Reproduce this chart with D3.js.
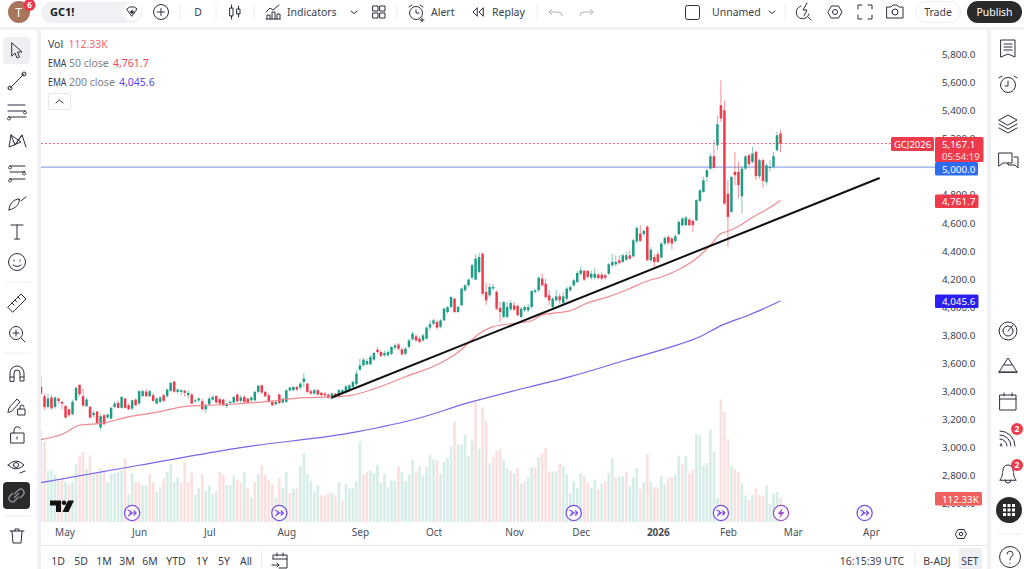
<!DOCTYPE html>
<html>
<head>
<meta charset="utf-8">
<script src="https://cdn.jsdelivr.net/npm/d3@7"></script>
<style>
html,body{margin:0;padding:0;background:#f0f1f4;overflow:hidden}
svg{display:block}
text{font-family:"Noto Sans",Roboto,sans-serif;fill:#3a3e4a}
.ic{fill:none;stroke:#2a2e39;stroke-width:1;stroke-linecap:round;stroke-linejoin:round}
</style>
</head>
<body>
<svg id="chart" width="1024" height="569"></svg>
<script>
//candles, one entry per trading day
var opens = [
3433,3367,3291,3358,3291,3350,3327,3298,3274,3239,
3338,3448,3367,3296,3291,3232,3258,3144,3232,3215,
3208,3291,3319,3284,3350,3303,3279,3343,3315,3369,
3400,3367,3374,3315,3327,3374,3367,3405,3471,3398,
3398,3405,3374,3379,3331,3338,3331,3274,3310,3343,
3369,3346,3343,3296,3319,3322,3379,3334,3362,3350,
3338,3338,3398,3445,3398,3374,3327,3310,3379,3322,
3327,3410,3410,3433,3429,3469,3457,3403,3386,3410,
3391,3386,3379,3350,3386,3367,3391,3398,3410,3433,
3452,3556,3587,3594,3594,3628,3699,3682,3659,3659,
3670,3713,3735,3701,3670,3718,3773,3794,3777,3765,
3777,3856,3884,3896,3861,3908,3967,4003,4062,3967,
4015,4122,4157,4212,4198,4252,4383,4110,4086,4134,
4110,3996,3932,3932,3986,4015,4010,3932,3979,3979,
4003,4110,4122,4205,4169,4086,4003,4050,4079,4031,
4062,4122,4157,4181,4240,4260,4260,4212,4212,4233,
4233,4229,4240,4300,4307,4336,4324,4340,4371,4364,
4470,4526,4522,4574,4336,4359,4379,4355,4455,4502,
4491,4472,4522,4586,4586,4626,4616,4621,4759,4823,
4930,4989,5077,5156,5441,5405,4811,4681,4966,4966,
4792,4989,5084,5037,5108,4935,5049,4894,4994,5001,
5120,5239];
var closes = [
3386,3291,3350,3281,3358,3334,3315,3215,3232,3327,
3426,3381,3300,3343,3215,3248,3177,3225,3168,3236,
3284,3315,3284,3362,3284,3274,3338,3303,3403,3403,
3367,3403,3334,3350,3358,3334,3414,3462,3400,3414,
3410,3391,3391,3315,3338,3350,3274,3303,3350,3362,
3322,3315,3303,3315,3327,3362,3331,3358,3327,3322,
3358,3398,3441,3393,3367,3327,3303,3327,3319,3350,
3410,3429,3433,3414,3457,3493,3398,3386,3410,3379,
3374,3374,3358,3386,3362,3410,3410,3438,3445,3469,
3528,3587,3628,3618,3647,3675,3682,3654,3675,3682,
3718,3730,3706,3666,3706,3765,3813,3765,3754,3801,
3856,3880,3908,3856,3908,3991,4003,4074,3967,4003,
4134,4157,4198,4300,4347,4359,4098,4050,4146,4146,
3991,3967,4039,4003,4031,3984,3944,3991,4003,4003,
4117,4122,4212,4157,4074,4050,4062,4079,4050,4079,
4134,4146,4193,4245,4264,4198,4217,4240,4240,4210,
4205,4212,4307,4324,4324,4316,4371,4371,4347,4478,
4565,4474,4545,4336,4411,4324,4324,4455,4495,4460,
4455,4507,4609,4633,4640,4586,4586,4764,4835,4906,
4977,5077,4996,5305,5346,4740,4645,4930,4942,4871,
4989,5077,5020,5096,4935,5049,4901,5013,5001,5077,
5227,5167.1];
var highs = [
3505,3386,3386,3374,3367,3358,3334,3303,3279,3343,
3438,3452,3422,3358,3298,3262,3262,3239,3239,3243,
3291,3327,3338,3367,3358,3315,3343,3350,3410,3414,
3419,3414,3391,3358,3367,3386,3422,3469,3476,3422,
3419,3414,3410,3391,3350,3362,3350,3315,3362,3374,
3374,3358,3350,3324,3338,3367,3386,3374,3374,3358,
3367,3405,3450,3450,3405,3386,3338,3338,3386,3358,
3414,3433,3441,3441,3467,3533,3462,3414,3419,3419,
3398,3396,3386,3396,3391,3419,3419,3445,3457,3481,
3555,3635,3642,3635,3659,3682,3718,3694,3694,3694,
3723,3742,3746,3713,3718,3775,3825,3808,3789,3813,
3865,3908,3920,3913,3917,3998,4008,4079,4069,4012,
4141,4169,4207,4312,4378,4388,4388,4174,4169,4169,
4122,4039,4043,4039,4050,4039,4022,4003,4015,4027,
4122,4131,4217,4240,4205,4122,4074,4126,4098,4110,
4146,4157,4205,4259,4293,4269,4264,4264,4283,4245,
4252,4240,4316,4383,4371,4371,4383,4395,4407,4490,
4580,4586,4555,4586,4430,4380,4396,4467,4507,4514,
4502,4519,4621,4645,4650,4640,4626,4769,4840,4930,
4989,5096,5191,5369,5619,5476,4906,4935,5108,5037,
5001,5084,5096,5144,5120,5061,5061,5025,5049,5108,
5251,5267];
var lows = [
3374,3272,3279,3272,3279,3315,3274,3208,3224,3232,
3334,3367,3291,3291,3208,3215,3172,3125,3160,3208,
3201,3279,3279,3279,3279,3267,3267,3298,3303,3362,
3362,3362,3327,3310,3319,3327,3358,3398,3391,3386,
3374,3362,3350,3310,3319,3327,3267,3248,3303,3334,
3315,3303,3296,3286,3310,3315,3322,3319,3319,3315,
3327,3329,3386,3386,3358,3319,3298,3300,3310,3315,
3319,3398,3403,3405,3414,3433,3391,3379,3376,3374,
3367,3362,3350,3343,3355,3358,3381,3386,3400,3424,
3445,3547,3580,3587,3587,3618,3670,3647,3647,3647,
3659,3699,3694,3659,3659,3706,3761,3756,3746,3756,
3770,3832,3872,3842,3851,3901,3955,3991,3960,3960,
4008,4110,4146,4198,4193,4240,4086,4015,4074,4122,
3979,3896,3920,3920,3974,3974,3936,3925,3967,3967,
3991,4098,4110,4150,4062,4015,3996,4039,4027,4020,
4050,4110,4146,4174,4229,4188,4205,4198,4198,4198,
4193,4198,4229,4288,4293,4307,4316,4331,4340,4354,
4460,4467,4507,4332,4324,4290,4317,4348,4443,4450,
4412,4460,4514,4574,4579,4579,4538,4614,4752,4816,
4894,4982,4989,5120,5322,4728,4431,4674,4871,4776,
4669,4982,5001,5025,4906,4918,4854,4871,4966,4989,
5113,5108];

//volume in thousands
var volumes = [
427,378,240,245,222,193,206,187,175,190,
271,307,328,250,312,222,234,253,245,187,
225,229,234,245,300,128,229,187,183,172,
172,225,187,140,162,203,234,271,187,209,
183,279,187,229,128,159,222,147,172,131,
147,234,222,172,172,217,198,183,234,159,
115,187,226,265,222,198,178,115,206,159,
234,136,156,156,261,323,225,193,144,172,
125,125,136,136,125,187,100,178,156,159,
190,378,222,234,240,229,268,183,225,162,
193,193,261,234,190,222,292,237,261,218,
259,315,292,287,225,281,300,354,468,362,
362,409,310,381,562,342,537,474,273,303,
334,342,290,250,240,229,253,179,190,209,
256,256,303,323,346,237,237,237,273,261,
226,136,190,159,228,217,181,162,198,150,
179,187,229,296,209,214,214,234,167,209,
253,154,186,318,190,162,162,214,178,206,
209,222,310,271,307,229,246,413,404,265,
276,435,328,112,573,515,390,264,248,234,
179,123,103,128,159,125,125,170,86,133,
140,112.33];
//1 = teal bar, 0 = pink bar
var volumeUp = [
0,0,1,1,1,0,0,1,0,1,
1,0,0,1,0,1,0,1,0,1,
1,1,1,1,0,1,1,0,0,1,
1,0,0,1,1,0,1,1,1,1,
0,0,0,0,1,1,0,1,1,1,
1,0,0,1,1,1,0,0,1,0,
1,0,1,0,0,0,0,1,0,1,
1,0,1,0,1,1,1,1,1,1,
0,0,0,1,0,1,0,1,1,1,
1,1,0,0,1,1,1,1,1,1,
1,1,0,1,1,1,1,0,1,1,
1,1,1,0,1,1,1,1,0,1,
1,1,1,1,0,1,0,0,1,0,
0,0,1,1,0,1,0,1,0,1,
1,0,1,0,0,0,1,1,0,1,
1,1,1,1,1,0,0,1,1,0,
1,0,1,1,0,1,1,0,1,1,
1,0,1,0,1,0,0,1,1,0,
0,1,1,0,1,0,0,1,1,1,
1,1,1,1,0,0,0,1,0,0,
1,1,0,1,0,0,0,1,1,1,
1,0];

//moving averages, sampled at these bar numbers
var ema50Bars = [0,6,11,18,24,32,42,53,65,75,83,88,95,104,114,119,122,125,129,136,140,143,151,156,162,167,173,177,182,187,191,194,196,200,204,207,211];
var ema50 = [3058,3096,3160,3177,3215,3248,3296,3308,3331,3357,3362,3371,3419,3506,3604,3680,3747,3812,3863,3889,3905,3946,3977,4032,4077,4124,4188,4217,4270,4348,4443,4526,4543,4593,4657,4697,4761.7];
var ema200Bars = [0,28,57,90,108,122,139,151,167,180,188,194,202,211];
var ema200 = [2752,2875,3001,3113,3212,3321,3431,3507,3625,3720,3791,3870,3946,4045.6];

//hand drawn trend line, bar number and price at each end
var trendBars = [83.1,239.1];
var trendPrices = [3360,4920];

//5,000 sits fully under its own price tag so it gets no tick
var priceTicks = [5800,5600,5400,5200,4800,4600,4400,4200,4000,3800,3600,3400,3200,3000,2800,2600];
var monthBars = [6.7,28,48,70,91,112,135,154,176,196,214.5,236.8];
var monthLabels = ["May","Jun","Jul","Aug","Sep","Oct","Nov","Dec","2026","Feb","Mar","Apr"];
var eventBars = [26,68,152,194,235];
var lastPrice = 5167.1, keyLevel = 5000, lastEma50 = 4761.7, lastEma200 = 4045.6, lastVolume = 112.33;

var upColor = "#1f9c85", downColor = "#ef3a4c";
var svg = d3.select("#chart");

//panels behind everything
svg.append("rect").attr("width",1024).attr("height",27).attr("fill","#fff");
svg.append("rect").attr("x",0).attr("y",30).attr("width",37).attr("height",539).attr("fill","#fff");
svg.append("rect").attr("x",41).attr("y",30).attr("width",946).attr("height",539).attr("fill","#fff");
svg.append("rect").attr("x",991).attr("y",30).attr("width",33).attr("height",539).attr("fill","#fff");
svg.append("line").attr("x1",41).attr("x2",987).attr("y1",545.5).attr("y2",545.5).attr("stroke","#e4e6eb");

//scales
var x = d3.scaleLinear().domain([0,211]).range([41,780.5]);
var y = d3.scaleLinear().domain([5800,2800]).range([54.8,475.8]);
var yVol = d3.scaleLinear().domain([0,lastVolume]).range([522,498]);

svg.append("clipPath").attr("id","pane").append("rect").attr("x",41).attr("y",30).attr("width",946).attr("height",493);
var pane = svg.append("g").attr("clip-path","url(#pane)");
var bars = d3.range(opens.length);

//volume
pane.selectAll(".vol").data(bars).enter().append("rect")
    .attr("x",function(d){return x(d)-1.3})
    .attr("width",2.6)
    .attr("y",function(d){return yVol(volumes[d])})
    .attr("height",function(d){return yVol(0)-yVol(volumes[d])})
    .attr("fill",function(d){return volumeUp[d] ? "#d6ede8" : "#fbe0df"});

//price lines, the dotted one snapped to a pixel row so it keeps its colour
var lastY = Math.floor(y(lastPrice))+0.5;
pane.append("line").attr("x1",41).attr("x2",892).attr("y1",lastY).attr("y2",lastY)
    .attr("stroke","#f4707e").attr("stroke-width",1).attr("stroke-dasharray","2 2");
pane.append("line").attr("x1",41).attr("x2",936).attr("y1",y(keyLevel)).attr("y2",y(keyLevel))
    .attr("stroke","#8fa8e8").attr("stroke-width",1.3);

//candles
pane.selectAll(".wick").data(bars).enter().append("line")
    .attr("x1",function(d){return x(d)}).attr("x2",function(d){return x(d)})
    .attr("y1",function(d){return y(highs[d])}).attr("y2",function(d){return y(lows[d])})
    .attr("stroke",function(d){return closes[d]>=opens[d] ? upColor : downColor})
    .attr("stroke-width",0.8).attr("opacity",0.7);
pane.selectAll(".body").data(bars).enter().append("rect")
    .attr("x",function(d){return x(d)-1.25}).attr("width",2.5)
    .attr("y",function(d){return y(Math.max(opens[d],closes[d]))})
    .attr("height",function(d){return Math.max(1,Math.abs(y(opens[d])-y(closes[d])))})
    .attr("fill",function(d){return closes[d]>=opens[d] ? upColor : downColor});

//emas
var emaLine = d3.line().x(function(d){return x(d[0])}).y(function(d){return y(d[1])}).curve(d3.curveMonotoneX);
pane.append("path").attr("d",emaLine(d3.zip(ema50Bars,ema50))).attr("fill","none").attr("stroke","#f08a90").attr("stroke-width",1.2);
pane.append("path").attr("d",emaLine(d3.zip(ema200Bars,ema200))).attr("fill","none").attr("stroke","#7566ec").attr("stroke-width",1.2);

//trend line
pane.append("line").attr("x1",x(trendBars[0])).attr("y1",y(trendPrices[0]))
    .attr("x2",x(trendBars[1])).attr("y2",y(trendPrices[1]))
    .attr("stroke","#111").attr("stroke-width",2).attr("stroke-linecap","round");

//price axis
var yAxis = d3.axisRight(y).tickValues(priceTicks).tickSize(0).tickPadding(0).tickFormat(d3.format(",.1f"));
var yG = svg.append("g").attr("transform","translate(942,-0.3)").call(yAxis);
yG.select(".domain").remove();
yG.selectAll("text").attr("font-size",9.8).style("fill","#3a3e4a");

//time axis
var xAxis = d3.axisBottom(x).tickValues(monthBars).tickSize(0).tickPadding(0)
    .tickFormat(function(d,i){return monthLabels[i]});
var xG = svg.append("g").attr("transform","translate(0,529)").call(xAxis);
xG.select(".domain").remove();
xG.selectAll("text").attr("font-size",10).style("fill","#4a4e5a")
    .attr("font-weight",function(d,i){return monthLabels[i]=="2026" ? "bold" : "normal"});

//event markers
function eventMark(cx,cy,color,bolt){
    var g = svg.append("g").attr("transform","translate("+cx+","+cy+")");
    g.append("circle").attr("r",7.6).attr("fill","#fff").attr("stroke",color).attr("stroke-width",1.3);
    if(bolt) g.append("path").attr("d","M1.5 -5 L-3.5 1 H-0.5 L-1.5 5 L3.5 -1 H0.5 Z").attr("fill",color);
    else g.append("path").attr("d","M-4.5 -3 Q-1 -2 0 0 L-4 3 M-3 0 H4 M1.5 -2.5 L4 0 L1.5 2.5").attr("fill","none").attr("stroke",color).attr("stroke-width",1.2);
}
eventBars.forEach(function(b){ eventMark(x(b),513,"#7b4fe6",false) });
eventMark(781,513,"#a050c8",true);

//tradingview mark
svg.append("path").attr("d","M50 500.5H61V512H56V505.5H50Z M64 500.5a2.3 2.3 0 1 1 -0.01 0 M68 500.5H74L68.5 512H62.5Z").attr("fill","#111");

//legend
function label(x0,y0,txt,size,color,anchor,weight){
    return svg.append("text").attr("x",x0).attr("y",y0).attr("font-size",size)
        .attr("text-anchor",anchor||"start").attr("font-weight",weight||"normal").style("fill",color||"#3a3e4a").text(txt);
}
var fmt = d3.format(",.1f");
label(48,47.5,"Vol",10.5,"#3a3e4a");
label(68.5,47.5,lastVolume+"K",10.5,"#ee6a70");
label(48,66.5,"EMA",10.5,"#3a3e4a").attr("textLength",18.5).attr("lengthAdjust","spacingAndGlyphs");
label(69,66.5,"50 close",10.5,"#7d818c");
label(113,66.5,fmt(lastEma50),10.5,"#ef4a58");
label(48,85.5,"EMA",10.5,"#3a3e4a").attr("textLength",18.5).attr("lengthAdjust","spacingAndGlyphs");
label(69,85.5,"200 close",10.5,"#7d818c");
label(119,85.5,fmt(lastEma200),10.5,"#5a48f0");
svg.append("rect").attr("x",48.5).attr("y",93.5).attr("width",22).attr("height",16).attr("rx",2).attr("fill","#fff").attr("stroke","#e4e6eb");
svg.append("path").attr("class","ic").attr("d","M56 103L59.5 100L63 103");

//price tags
function tag(x0,y0,w,h,color){
    svg.append("rect").attr("x",x0).attr("y",y0).attr("width",w).attr("height",h).attr("rx",1.5).attr("fill",color);
}
tag(891,137,43,14,"#ef3a4c");
label(912.5,148,"GCJ2026",9.5,"#fff","middle");
tag(935,137,48.5,25,"#ef3a4c");
label(942,148,fmt(lastPrice),9.8,"#fff");
label(942,159.5,"05:54:19",9.5,"#fde0e2");
tag(935,162,43,13.5,"#2f6bf0");
label(942,172.5,fmt(keyLevel),9.8,"#fff");
tag(935,194.5,43.5,13.5,"#ef3a4c");
label(942,205,fmt(lastEma50),9.8,"#fff");
tag(935,294.5,43.5,13.5,"#2a1ff0");
label(942,305,fmt(lastEma200),9.8,"#fff");
tag(935,492,47,13.5,"#f0605d");
label(942,502.5,lastVolume+"K",9.8,"#fff");

//bottom bar
var ranges = [["1D",58],["5D",81],["1M",104],["3M",127],["6M",150],["YTD",176],["1Y",202],["5Y",224],["All",246]];
ranges.forEach(function(r){ label(r[1],565,r[0],10.5,"#3a3e4a","middle") });
svg.append("rect").attr("x",959).attr("y",548).attr("width",23).attr("height",21).attr("rx",2).attr("fill","#eeeff2");
label(872,565,"16:15:39 UTC",10.5,"#3a3e4a","middle");
label(937,565,"B-ADJ",10.5,"#3a3e4a","middle");
label(970,565,"SET",10.5,"#3a3e4a","middle");
[261.5,915].forEach(function(sx){
    svg.append("line").attr("x1",sx).attr("x2",sx).attr("y1",551).attr("y2",567).attr("stroke","#e4e6eb");
});

//icons for the toolbars, drawn around 0,0
function icon(cx,cy,d,extra){
    var g = svg.append("g").attr("transform","translate("+cx+","+cy+")");
    g.append("path").attr("class","ic").attr("d",d);
    return g;
}
var circle = function(r){return "M"+(-r)+" 0a"+r+" "+r+" 0 1 0 "+(2*r)+" 0a"+r+" "+r+" 0 1 0 "+(-2*r)+" 0"};

//top bar
svg.append("circle").attr("cx",19).attr("cy",12).attr("r",11).attr("fill","#a8745c");
label(18.5,16.5,"T",12,"#fff","middle");
svg.append("circle").attr("cx",29.5).attr("cy",5).attr("r",6).attr("fill","#ef3a4c");
label(29.5,8,"6",8,"#fff","middle","bold");
svg.append("rect").attr("x",41).attr("y",2).attr("width",101).attr("height",21).attr("rx",10.5).attr("fill","#f0f1f4");
label(50,16,"GC1!",11,"#131722","start","bold");
svg.append("circle").attr("cx",132).attr("cy",12).attr("r",9).attr("fill","#fff");
icon(132,12,"M-5 -3L-2.5 -5H2.5L5 -3L0 4Z");
svg.append("circle").attr("cx",132).attr("cy",12).attr("r",1.8).attr("fill","#2a2e39");
icon(161,12,circle(7.5)+"M-3.5 0H3.5M0 -3.5V3.5");
label(198,16,"D",10.5,"#3a3e4a","middle");
icon(235,12,"M-5 -4H-2V4H-5ZM-3.5 -7V-4M-3.5 4V7M2 -3H5V2H2ZM3.5 -6V-3M3.5 2V5");
icon(273,12,"M-7 7H7M-6 7V3H-3V7M-1 7V0H2V7M4 7V2H7V7M-7 0L-3 -4L0 -2L6 -7");
label(287,16,"Indicators",10.5,"#3a3e4a");
icon(354,12,"M-3 -1L0 1.5L3 -1");
icon(379,12,"M-6 -6H-1V-1H-6ZM1 -6H6V-1H1ZM-6 1H-1V6H-6ZM1 1H6V6H1Z");
icon(416,13,circle(6.5)+"M0 -3V0H3M-7 -6L-4 -8M7 -6L4 -8M6 5V9M4 7H8");
label(431,16,"Alert",10.5,"#3a3e4a");
icon(478,12,"M-1 -4L-5 0L-1 4ZM5 -4L1 0L5 4Z");
label(492,16,"Replay",10.5,"#3a3e4a");
svg.append("path").attr("d","M552 9L549 12L552 15M549 12H558a4 4 0 0 1 4 4").attr("fill","none").attr("stroke","#b0b3bb");
svg.append("path").attr("d","M590 9L593 12L590 15M593 12H584a4 4 0 0 0 -4 4").attr("fill","none").attr("stroke","#b0b3bb");
svg.append("rect").attr("x",685.5).attr("y",5.5).attr("width",14).attr("height",14).attr("rx",2).attr("fill","none").attr("stroke","#2a2e39");
label(712,16,"Unnamed",10.5,"#3a3e4a");
icon(772,12,"M-3 -1L0 1.5L3 -1");
icon(804,12,"M-3 -6A6.5 6.5 0 1 0 5 2M4 5L7 8M3 -9L-1 -2H3L0 4");
icon(835,12,"M-7 0L-3.5 -6H3.5L7 0L3.5 6H-3.5Z"+circle(2.5));
icon(865,12,"M-7 -3V-7H-3M3 -7H7V-3M7 3V7H3M-3 7H-7V3");
icon(895,12,"M-8 -5H-4L-2 -7H2L4 -5H8V6H-8Z"+circle(3));
svg.append("rect").attr("x",915.5).attr("y",1.5).attr("width",45).attr("height",21).attr("rx",10.5).attr("fill","#fff").attr("stroke","#eceef1");
label(938,16,"Trade",10.5,"#3a3e4a","middle");
svg.append("rect").attr("x",967).attr("y",1).attr("width",55).attr("height",22).attr("rx",11).attr("fill","#2a2a2a");
label(994.5,16,"Publish",10.5,"#fff","middle");
[180,216,254,397,537,785].forEach(function(sx){
    svg.append("line").attr("x1",sx).attr("x2",sx).attr("y1",5).attr("y2",20).attr("stroke","#eceef1");
});

//left toolbar
svg.append("rect").attr("x",3).attr("y",37).attr("width",27).attr("height",27).attr("rx",4).attr("fill","#eeeff2");
icon(17,50,"M-5 -7L5 2H0.5L2.5 7L0 8L-2 3L-5 6Z");
icon(17,81,"M-7 7L7 -7"+"M-7 7m-2 0a2 2 0 1 0 4 0a2 2 0 1 0 -4 0M7 -7m-2 0a2 2 0 1 0 4 0a2 2 0 1 0 -4 0");
icon(17,111,"M-9 -6H8M-9 0H8M-8 6H9M8 0a1.5 1.5 0 1 0 .1 0M-8 6a1.5 1.5 0 1 0 .1 0");
icon(17,141,"M-6 -6L-2 4L5 -6L9 6M-6 -6L-8 6L4 1L-6 -6M5 -6L-2 4");
icon(17,172,"M-7 -6H8M-7 0H8M-7 7H8M-7 -6a1.5 1.5 0 1 0 .1 0M7 0a1.5 1.5 0 1 0 .1 0M-7 7a1.5 1.5 0 1 0 .1 0");
icon(17,202,"M-8 8C-8 2 -3 -3 2 -3C3 1 0 6 -8 8M2 -3C4 -2 4 0 5 -2L9 -5");
icon(17,232,"M-6 -7H6M0 -7V7M-2.5 7H2.5");
icon(17,262,circle(8.5)+"M-3 -2v1M3 -2v1M-4 3Q0 6 4 3");
icon(17,303,"M-9 4L4 -9L9 -4L-4 9ZM-5 0L-3 2M-2 -3L0 -1M1 -6L3 -4");
icon(16,333,circle(6.5)+"M5 5L9 9M-3 0H3M0 -3V3");
icon(17,374,"M-7 7V-1a7 7 0 0 1 14 0V7H3V-1a3 3 0 0 0 -6 0V7ZM-7 3H-3M3 3H7");
icon(16,405,"M-8 7L-7 3L1 -6L4 -3L-4 6ZM2 4H9V10H2ZM4 4V2a2 2 0 0 1 4 0");
icon(17,435,"M-6 -2H7V8H-6ZM-3 -2V-5a3.5 3.5 0 0 1 6.5 -1.5M0 2V4");
icon(16,465,"M-8 0Q0 -8 8 0Q0 8 -8 0"+circle(2.5)+"M4 8L9 6");
svg.append("rect").attr("x",3).attr("y",482).attr("width",27).attr("height",27).attr("rx",4).attr("fill","#2a2a2a");
svg.append("path").attr("d","M-2 -1L2 -5a3 3 0 0 1 4 4L3 2M2 1L-2 5a3 3 0 0 1 -4 -4L-3 -2M-2 2L2 -2").attr("transform","translate(16.5,495.5) scale(1.2)").attr("fill","none").attr("stroke","#8a8d94").attr("stroke-width",1.2);
icon(17,536,"M-7 -5H7M-2 -5V-7H2V-5M-5 -5L-4 7H4L5 -5");
[282,353,516].forEach(function(sy){
    svg.append("line").attr("x1",4).attr("x2",31).attr("y1",sy).attr("y2",sy).attr("stroke","#eceef1");
});

//right toolbar
icon(1008,49,"M-7 -9H7V8L0 5L-7 8ZM-4 -5H4M-4 -2H4M-4 1H4");
icon(1008,85,circle(7.5)+"M0 -4V1H-3M-9 -7L-6 -9M9 -7L6 -9");
icon(1008,123,"M-9 -3L0 -8L9 -3L0 2ZM-9 1L0 6L9 1M-9 5L0 10L9 5");
icon(1008,160,"M-9 -7H4V3H-5L-9 6ZM6 -3H10V8L7 5H0V3");
icon(1008,331,circle(9)+circle(5)+"M0 0L5 -6");
icon(1008,366,"M-9 6L0 -8L9 6Z M-9 6H9M-4 -1H4");
icon(1008,402,"M-8 -7H8V8H-8ZM-8 -3H8M-4 -9V-6M4 -9V-6");
icon(1008,438,"M-7 6a1 1 0 1 0 .1 0M-8 1a7 7 0 0 1 7 7M-8 -3a11 11 0 0 1 11 11M-8 -7a15 15 0 0 1 15 15");
icon(1008,474,"M-8 6C-5 3 -6 -1 -5 -4a5 5 0 0 1 10 0C6 -1 5 3 8 6ZM-3 6a3 3 0 0 0 6 0");
[[1017,429],[1017,465]].forEach(function(b){
    svg.append("circle").attr("cx",b[0]).attr("cy",b[1]).attr("r",6).attr("fill","#ef3a4c");
    label(b[0],b[1]+3,"2",8.5,"#fff","middle","bold");
});
svg.append("circle").attr("cx",1009).attr("cy",510).attr("r",13).attr("fill","#2a2a2a");
d3.range(3).forEach(function(r){
    d3.range(3).forEach(function(c){
        svg.append("rect").attr("x",1003+c*4.5).attr("y",504+r*4.5).attr("width",3).attr("height",3).attr("fill","#fff");
    });
});
svg.append("line").attr("x1",996).attr("x2",1022).attr("y1",534).attr("y2",534).attr("stroke","#eceef1");
icon(1010,557,circle(10.5)+"M-3 -3a3 3 0 1 1 4 3Q0 1 0 3M0 6V6.5");
icon(961,534,"M-5.5 0L-3 -4.5H3L5.5 0L3 4.5H-3Z"+circle(1.8));
icon(280,561,"M-7 -2V-6H7V7H-1M-7 -2H7M-3 -8V-5M3 -8V-5M-8 4H-1M-3 2L-1 4L-3 6");
</script>
</body>
</html>
